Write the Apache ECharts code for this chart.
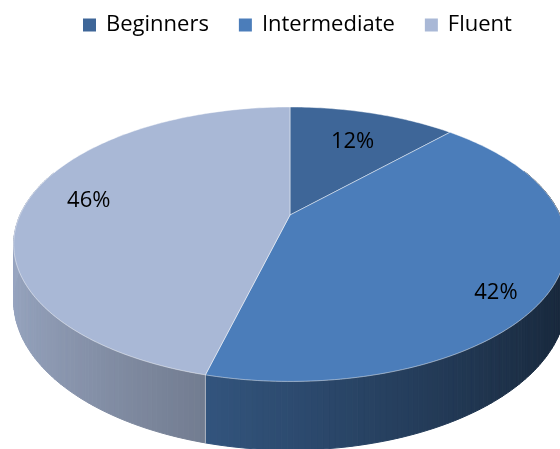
<!DOCTYPE html>
<html><head><meta charset="utf-8">
<script src="https://cdn.jsdelivr.net/npm/echarts@6.0.0/dist/echarts.min.js"></script>
<style>html,body{margin:0;padding:0;background:#fff}#c{width:560px;height:449px}</style>
</head><body><div id="c"></div>
<script>
const categories = ['Beginners', 'Intermediate', 'Fluent'];
const values = [12, 42, 46];
const labelTexts = ['12%', '42%', '46%'];

// styling
const topColors = ['#3E6698', '#4B7DBA', '#A9B8D6'];
const labelOffsets = [[0, 3], [22, 29], [-12, -3]];
const view = {cx: 290, cy: 215, rx: 270, ry: 131, k: 0.213, depth: 54, labelR: 0.72};

const total = values.reduce((a, b) => a + b, 0);

function project(theta, r, down) {
  const u = Math.sin(theta) * r, v = -Math.cos(theta) * r;
  const d = 1 - view.k * v;
  return [view.cx + view.rx * u / d, view.cy + view.ry * v / d + (down ? view.depth / d : 0)];
}
function hexToRgb(h) {
  return [parseInt(h.slice(1, 3), 16), parseInt(h.slice(3, 5), 16), parseInt(h.slice(5, 7), 16)];
}
function shade(hex, f) {
  const c = hexToRgb(hex).map(x => Math.max(0, Math.min(255, Math.round(x * f))));
  return 'rgb(' + c.join(',') + ')';
}

function makeRender(idx) {
  return function (params, api) {
    const start = api.value(0), val = api.value(1);
    const t0 = start / total * Math.PI * 2;
    const t1 = (start + val) / total * Math.PI * 2;
    const n = Math.max(2, Math.ceil((t1 - t0) / (Math.PI / 180)));
    const children = [];
    // outer wall
    for (let i = 0; i < n; i++) {
      const a = t0 + (t1 - t0) * i / n, b = t0 + (t1 - t0) * (i + 1) / n;
      const m = (a + b) / 2;
      if (-Math.cos(m) < -0.35) continue;
      const col = shade(topColors[idx], 0.6 - 0.3 * Math.sin(m));
      children.push({
        type: 'polygon', z2: 1,
        shape: {points: [project(a, 1, false), project(b, 1, false), project(b, 1, true), project(a, 1, true)]},
        style: {fill: col, stroke: col, lineWidth: 1}
      });
    }
    // wall edge at slice start
    if (-Math.cos(t0) > 0) {
      const p = project(t0, 1, false), q = project(t0, 1, true);
      children.push({type: 'line', z2: 2, shape: {x1: p[0], y1: p[1], x2: q[0], y2: q[1]},
        style: {stroke: 'rgba(255,255,255,0.45)', lineWidth: 1}});
    }
    // top face
    const pts = [project(0, 0, false)];
    for (let i = 0; i <= n; i++) pts.push(project(t0 + (t1 - t0) * i / n, 1, false));
    children.push({
      type: 'polygon', z2: 10, shape: {points: pts},
      style: {fill: topColors[idx], stroke: 'rgba(255,255,255,0.45)', lineWidth: 1}
    });
    // label
    const lp = project((t0 + t1) / 2, view.labelR, false);
    children.push({
      type: 'text', z2: 30,
      style: {text: labelTexts[idx], x: lp[0] + labelOffsets[idx][0], y: lp[1] + labelOffsets[idx][1],
        align: 'center', verticalAlign: 'middle', font: '22px "Open Sans"', fill: '#000'}
    });
    return {type: 'group', children: children};
  };
}

let cum = 0;
const series = categories.map((name, i) => {
  const s = {
    type: 'custom', name: name, coordinateSystem: 'none',
    itemStyle: {color: topColors[i]},
    renderItem: makeRender(i),
    data: [{name: name, value: [cum, values[i]]}]
  };
  cum += values[i];
  return s;
});

const chart = echarts.init(document.getElementById('c'), null, {renderer: 'canvas'});
chart.setOption({
  animation: false,
  legend: {
    data: categories, left: 78, top: 9, icon: 'rect', itemWidth: 13, itemHeight: 13, itemGap: 30,
    selectedMode: false,
    textStyle: {fontFamily: 'Open Sans', fontSize: 22, color: '#000', padding: [0, 0, 0, 5], lineHeight: 22}
  },
  series: series
});
</script></body></html>
